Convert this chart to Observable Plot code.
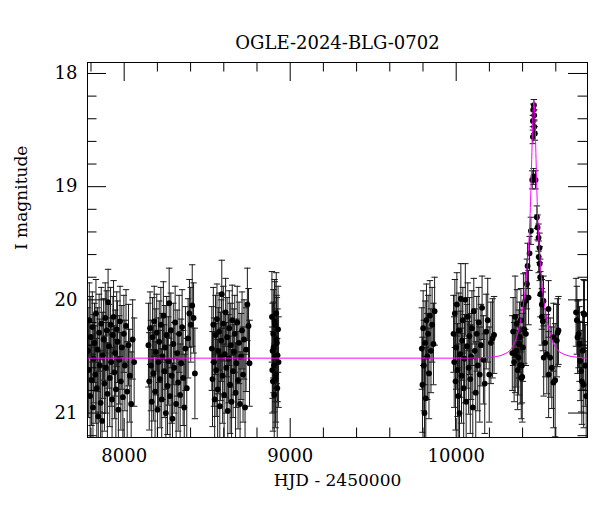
<!DOCTYPE html>
<html><head><meta charset="utf-8">
<script src="https://cdn.jsdelivr.net/npm/d3@7"></script>
<script src="https://cdn.jsdelivr.net/npm/@observablehq/plot@0.6"></script>
<style>body{margin:0;background:#fff}</style>
</head><body><div id="chart"></div>
<script>
const title = "OGLE-2024-BLG-0702";
const xLabel = "HJD - 2450000";
const yLabel = "I magnitude";
const xMajorTicks = [8000, 9000, 10000];
const xMinorTicks = [7800, 8200, 8400, 8600, 8800, 9200, 9400, 9600, 9800, 10200, 10400, 10600];
const yMajorTicks = [18, 19, 20, 21];
const yMinorTicks = [18.2, 18.4, 18.6, 18.8, 19.2, 19.4, 19.6, 19.8, 20.2, 20.4, 20.6, 20.8, 21.2];
const xDomain = [7779, 10791];
const yDomain = [21.216, 17.903];

// observations: [HJD-2450000, I mag, error]
const season2017 = [[7782,20.45,0.38],[7786,20.62,0.42],[7790,20.18,0.33],[7795,20.85,0.45],[7799,20.33,0.36],[7803,20.71,0.4],[7808,20.24,0.31],[7812,20.95,0.47],[7816,20.52,0.39],[7821,20.38,0.35],[7826,20.66,0.43],[7830,20.12,0.3],[7835,20.78,0.44],[7840,20.44,0.37],[7844,21.03,0.48],[7849,20.29,0.34],[7853,20.58,0.41],[7858,20.91,0.46],[7862,20.21,0.32],[7867,21.07,0.49],[7871,20.49,0.38],[7876,20.35,0.36],[7881,20.74,0.42],[7886,20.16,0.31],[7890,20.6,0.4],[7895,20.27,0.35],[7899,20.83,0.45],[7903,20.02,0.29],[7908,20.41,0.37],[7913,20.69,0.43],[7918,20.22,0.33],[7922,20.55,0.39],[7927,20.88,0.46],[7932,20.31,0.34],[7936,20.15,0.32],[7941,20.64,0.41],[7946,20.47,0.38],[7950,20.79,0.44],[7955,20.26,0.33],[7960,20.37,0.36],[7965,20.97,0.47],[7970,20.53,0.39],[7975,20.19,0.31],[7980,20.72,0.43],[7986,20.42,0.37],[7992,20.86,0.45],[7998,20.3,0.34],[8004,20.58,0.4],[8011,20.23,0.32],[8018,20.81,0.44],[8026,20.4,0.36],[8034,20.67,0.41],[8042,20.92,0.46],[8051,20.35,0.35],[8060,20.55,0.39]];
const season2018 = [[8146,20.4,0.37],[8151,20.72,0.43],[8156,20.25,0.32],[8161,20.58,0.4],[8166,20.9,0.46],[8171,20.33,0.35],[8176,20.65,0.42],[8181,20.19,0.31],[8186,20.81,0.44],[8191,20.46,0.38],[8196,20.29,0.34],[8201,20.97,0.48],[8206,20.55,0.39],[8211,20.37,0.36],[8216,20.7,0.43],[8221,20.22,0.33],[8226,20.88,0.45],[8231,20.5,0.38],[8236,20.14,0.3],[8241,20.63,0.41],[8246,20.42,0.37],[8251,21.0,0.47],[8256,20.31,0.34],[8261,20.76,0.43],[8266,20.54,0.39],[8271,20.03,0.31],[8276,20.85,0.45],[8281,20.27,0.33],[8286,20.67,0.42],[8291,21.05,0.49],[8296,20.39,0.36],[8301,20.6,0.4],[8307,20.2,0.32],[8313,20.92,0.46],[8319,20.47,0.38],[8325,20.73,0.43],[8331,20.3,0.34],[8337,20.84,0.45],[8343,20.56,0.39],[8349,20.24,0.33],[8355,20.69,0.42],[8362,20.95,0.47],[8369,20.43,0.37],[8377,20.78,0.44],[8385,20.34,0.35],[8393,20.12,0.3],[8401,20.22,0.33],[8410,20.05,0.36],[8418,20.16,0.31],[8426,20.65,0.4]];
const season2019 = [[8528,20.43,0.37],[8532,20.7,0.42],[8537,20.22,0.33],[8541,20.55,0.39],[8545,20.88,0.45],[8550,20.31,0.35],[8554,20.62,0.41],[8559,20.17,0.31],[8563,20.79,0.44],[8567,20.45,0.38],[8572,20.28,0.34],[8576,20.94,0.47],[8581,20.5,0.39],[8585,20.36,0.36],[8588,19.95,0.3],[8593,20.67,0.42],[8597,20.21,0.33],[8602,20.84,0.45],[8606,20.48,0.38],[8611,20.11,0.3],[8615,20.6,0.4],[8620,20.33,0.35],[8624,20.98,0.48],[8629,20.52,0.39],[8633,20.25,0.33],[8638,20.75,0.43],[8642,20.4,0.37],[8647,20.9,0.46],[8651,20.18,0.31],[8656,20.63,0.41],[8661,20.46,0.38],[8666,20.3,0.34],[8671,20.82,0.44],[8676,20.56,0.39],[8681,20.2,0.32],[8686,20.71,0.43],[8692,20.38,0.36],[8698,20.92,0.46],[8704,20.5,0.38],[8710,20.27,0.34],[8716,20.66,0.42],[8722,20.35,0.35],[8728,20.95,0.47],[8734,20.44,0.37],[8742,20.04,0.32],[8749,20.23,0.33],[8755,20.56,0.38]];
const season2020 = [[8890,20.15,0.4],[8892,20.62,0.38],[8894,20.45,0.42],[8896,20.72,0.44],[8898,20.3,0.39],[8900,20.42,0.4],[8902,20.58,0.41],[8904,20.84,0.45],[8906,20.19,0.37],[8908,20.22,0.38],[8910,20.5,0.4],[8912,20.7,0.43],[8914,20.66,0.42],[8916,20.12,0.36],[8918,20.35,0.39],[8920,20.38,0.4],[8922,20.78,0.44],[8924,20.49,0.41],[8927,20.26,0.38],[8930,20.55,0.4]];
const season2022 = [[9793,20.43,0.36],[9797,20.75,0.42],[9801,20.25,0.33],[9805,20.58,0.4],[9809,21.0,0.48],[9813,20.38,0.37],[9817,20.87,0.45],[9821,20.18,0.32],[9826,20.5,0.38],[9831,20.3,0.34],[9836,20.65,0.4],[9842,20.14,0.31],[9848,20.45,0.37],[9855,20.22,0.33],[9863,20.39,0.36],[9870,20.1,0.3]];
const season2023 = [[9984,20.3,0.34],[9988,20.55,0.4],[9992,20.12,0.3],[9996,20.72,0.43],[10000,20.42,0.37],[10004,20.04,0.28],[10008,20.62,0.41],[10012,20.85,0.46],[10016,20.27,0.33],[10020,21.0,0.5],[10024,20.48,0.38],[10028,19.99,0.31],[10032,20.67,0.42],[10036,20.36,0.35],[10040,20.18,0.29],[10045,20.78,0.44],[10050,20.52,0.39],[10055,20.0,0.32],[10060,20.9,0.47],[10065,20.41,0.37],[10070,20.15,0.3],[10075,20.6,0.41],[10080,20.32,0.34],[10085,20.7,0.48],[10090,20.5,0.38],[10095,20.25,0.33],[10100,20.95,0.43],[10106,20.1,0.29],[10112,20.45,0.37],[10118,20.82,0.45],[10124,20.3,0.33],[10130,20.58,0.4],[10136,20.2,0.31],[10142,20.66,0.42],[10149,20.4,0.36],[10156,20.07,0.28],[10164,20.53,0.39],[10172,20.74,0.44],[10181,20.28,0.33],[10190,20.18,0.37],[10199,20.66,0.42],[10209,20.38,0.36],[10219,20.34,0.35],[10228,20.31,0.34]];
const season2024 = [[10338,20.47,0.33],[10343,20.28,0.3],[10349,20.55,0.35],[10355,20.15,0.36],[10355,20.48,0.34],[10361,20.45,0.32],[10366,20.21,0.3],[10370,20.62,0.35],[10375,20.51,0.33],[10378,20.39,0.3],[10381,20.33,0.31],[10386,20.58,0.34],[10390,20.18,0.28],[10392,20.69,0.36],[10396,20.58,0.33],[10398,20.68,0.4],[10402,20.42,0.3],[10405,20.04,0.27],[10410,20.26,0.3],[10416,20.01,0.25],[10420,20.3,0.28],[10426,19.86,0.22],[10430,19.7,0.2],[10436,19.98,0.24],[10442,19.59,0.15],[10450,19.39,0.12],[10458,18.94,0.08],[10462,18.56,0.06],[10462,18.42,0.05],[10464,18.32,0.05],[10466,18.91,0.07],[10468,18.28,0.05],[10470,18.47,0.06],[10470,18.37,0.05],[10474,18.53,0.06],[10478,18.94,0.08],[10486,19.27,0.1],[10490,19.36,0.11],[10496,19.45,0.12],[10497,19.62,0.14],[10502,19.54,0.13],[10503,19.68,0.15],[10506,19.8,0.16],[10507,19.95,0.2],[10516,20.04,0.22],[10516,20.15,0.25],[10522,20.19,0.26],[10526,20.01,0.22],[10527,20.51,0.34],[10536,20.38,0.3],[10546,20.48,0.35],[10556,20.08,0.25],[10557,20.66,0.38],[10566,20.51,0.35],[10576,20.6,0.36],[10586,20.33,0.3],[10586,20.73,0.4],[10596,20.71,0.5],[10606,20.36,0.32],[10611,20.29,0.3],[10616,20.27,0.3]];
const season2025 = [[10722,20.11,0.3],[10727,20.18,0.3],[10731,20.33,0.32],[10737,20.3,0.3],[10743,20.39,0.33],[10747,20.54,0.35],[10753,20.63,0.36],[10757,20.72,0.38],[10762,20.45,0.34],[10767,20.12,0.3],[10768,20.75,0.38],[10773,20.13,0.3],[10778,20.58,0.36],[10783,20.85,0.4]];

// model curve
const modelHjd = [7779, 9800, 10068, 10218, 10288, 10333, 10368, 10383, 10398, 10408, 10418, 10428, 10433, 10438, 10443, 10448, 10452, 10456, 10460, 10464, 10468, 10472, 10476, 10480, 10484, 10488, 10493, 10498, 10503, 10508, 10518, 10528, 10538, 10553, 10568, 10603, 10648, 10718, 10791];
const modelMag = [20.515, 20.515, 20.515, 20.505, 20.48, 20.43, 20.31, 20.22, 20.1, 20.01, 19.88, 19.7, 19.6, 19.48, 19.33, 19.13, 18.93, 18.7, 18.47, 18.31, 18.24, 18.31, 18.47, 18.7, 18.93, 19.13, 19.33, 19.48, 19.6, 19.7, 19.88, 20.01, 20.1, 20.22, 20.31, 20.43, 20.48, 20.505, 20.515];

const W = 600, H = 512, mL = 87, mR = 13, mT = 62, mB = 75;
const frameW = W - mL - mR, frameH = H - mT - mB;
const majorLen = 19, minorLen = 9.5;

const obs = [...season2017, ...season2018, ...season2019, ...season2020, ...season2022, ...season2023, ...season2024, ...season2025]
  .map(([t, m, e]) => ({t, m, e}));
const model = modelHjd.map((t, i) => ({t, m: modelMag[i]}));

const capSymbol = {draw(ctx, size) { const w = Math.sqrt(size / Math.PI); ctx.moveTo(-w, 0); ctx.lineTo(w, 0); }};

const tickMarks = (vals, len) => [
  Plot.tickX(vals, {x: d => d, insetTop: frameH - len, stroke: "black"}),
  Plot.tickX(vals, {x: d => d, insetBottom: frameH - len, stroke: "black"})
];
const tickMarksY = (vals, len) => [
  Plot.tickY(vals, {y: d => d, insetRight: frameW - len, stroke: "black"}),
  Plot.tickY(vals, {y: d => d, insetLeft: frameW - len, stroke: "black"})
];

const chart = Plot.plot({
  width: W, height: H,
  marginLeft: mL, marginRight: mR, marginTop: mT, marginBottom: mB,
  style: {fontFamily: "DejaVu Serif", fontSize: "18px", color: "black", background: "white"},
  x: {domain: xDomain},
  y: {domain: yDomain},
  marks: [
    Plot.ruleX(obs, {x: "t", y1: d => d.m - d.e, y2: d => d.m + d.e, stroke: "#1a1a1a", strokeWidth: 1, clip: true}),
    Plot.dot(obs, {x: "t", y: d => d.m - d.e, symbol: capSymbol, r: 3.2, stroke: "#1a1a1a", strokeWidth: 1, clip: true}),
    Plot.dot(obs, {x: "t", y: d => d.m + d.e, symbol: capSymbol, r: 3.2, stroke: "#1a1a1a", strokeWidth: 1, clip: true}),
    Plot.dot(obs, {x: "t", y: "m", r: 2.9, fill: "black", clip: true}),
    Plot.line(model, {x: "t", y: "m", stroke: "#ff00ff", strokeWidth: 1, curve: "monotone-x", clip: true}),
    Plot.frame({stroke: "black"}),
    ...tickMarks(xMajorTicks, majorLen),
    ...tickMarks(xMinorTicks, minorLen),
    ...tickMarksY(yMajorTicks, majorLen),
    ...tickMarksY(yMinorTicks, minorLen),
    Plot.axisX(xMajorTicks, {tickSize: 0, tickPadding: 12, fontSize: 18, label: null, tickFormat: d => String(d)}),
    Plot.axisY(yMajorTicks, {tickSize: 0, tickPadding: 10, fontSize: 18, label: null, tickFormat: d => String(d)}),
    Plot.text([xLabel], {frameAnchor: "bottom", dy: 48, fontSize: 17}),
    Plot.text([yLabel], {frameAnchor: "left", dx: -66, rotate: -90, fontSize: 17}),
    Plot.text([title], {frameAnchor: "top", dy: -26, fontSize: 18})
  ]
});
document.getElementById("chart").appendChild(chart);
</script>
</body></html>
